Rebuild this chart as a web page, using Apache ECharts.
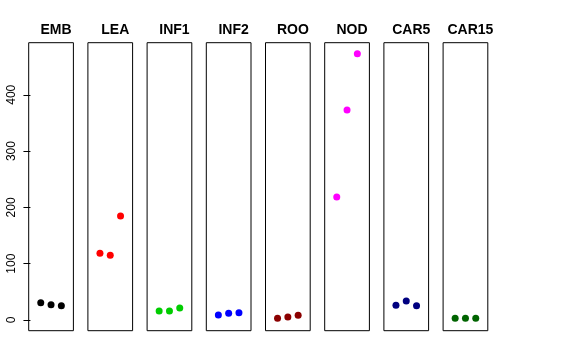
<!DOCTYPE html>
<html><head><meta charset="utf-8">
<script src="https://cdn.jsdelivr.net/npm/echarts@6/dist/echarts.min.js"></script>
<style>html,body{margin:0;padding:0;background:#fff}#c{width:576px;height:360px}</style>
</head><body><div id="c"></div>
<script>
const categories = ['EMB','LEA','INF1','INF2','ROO','NOD','CAR5','CAR15'];
const EMB = [30.7, 27.2, 25.4];
const LEA = [118.5, 115, 184.7];
const INF1 = [16, 16, 21.3];
const INF2 = [8.9, 11.8, 13];
const ROO = [3, 5.3, 8.3];
const NOD = [218.5, 373, 473];
const CAR5 = [26, 33.7, 25.4];
const CAR15 = [3, 3, 3];
const seriesValues = [EMB, LEA, INF1, INF2, ROO, NOD, CAR5, CAR15];
const colors = ['#000000','#FF0000','#00CD00','#0000FF','#8B0000','#FF00FF','#000080','#006400'];
const yTicks = [0, 100, 200, 300, 400];
const reps = [1, 2, 3];

const grids = [], xAxes = [], yAxes = [], series = [], titles = [];
categories.forEach((cat, i) => {
  const left = 28.7 + 59.2 * i;
  const w = 44.7;
  grids.push({left: left, top: 42.7, width: w, height: 288, show: true, borderColor: '#000', borderWidth: 1, backgroundColor: 'transparent'});
  xAxes.push({gridIndex: i, type: 'value', min: -0.17, max: 4.17, show: false});
  yAxes.push({
    gridIndex: i, type: 'value', min: -19, max: 492.5, show: i === 0,
    axisLine: {show: false},
    axisTick: {show: true, length: 7, lineStyle: {color: '#000'}, customValues: yTicks},
    axisLabel: {show: true, rotate: 90, margin: 11, color: '#000', fontSize: 12, fontFamily: 'Liberation Sans, Arial, sans-serif', customValues: yTicks},
    splitLine: {show: false}
  });
  series.push({
    type: 'scatter', xAxisIndex: i, yAxisIndex: i, symbolSize: 7,
    itemStyle: {color: colors[i], opacity: 1},
    data: reps.map((r, k) => [r, seriesValues[i][k]]),
    silent: true, animation: false
  });
  titles.push({text: cat, left: left + w / 2, top: 18, textAlign: 'center',
    textStyle: {fontSize: 14, fontWeight: 'bold', color: '#000', fontFamily: 'Liberation Sans, Arial, sans-serif'}});
});

const chart = echarts.init(document.getElementById('c'), null, {renderer: 'canvas'});
chart.setOption({animation: false, title: titles, grid: grids, xAxis: xAxes, yAxis: yAxes, series: series});
</script></body></html>
